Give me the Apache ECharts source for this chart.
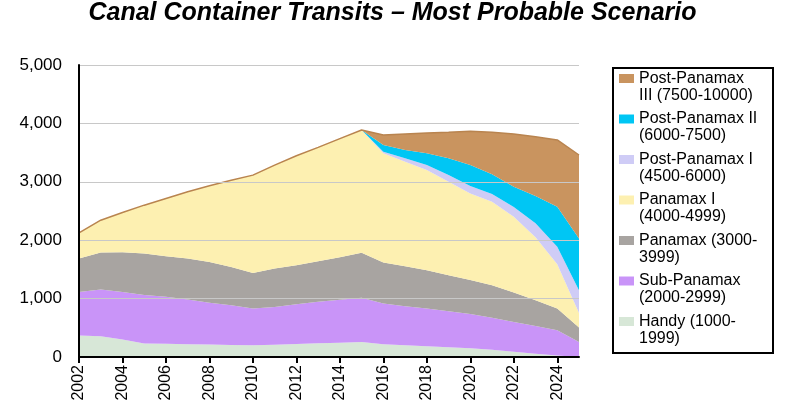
<!DOCTYPE html>
<html>
<head>
<meta charset="utf-8">
<script src="https://cdn.jsdelivr.net/npm/echarts@6/dist/echarts.min.js"></script>
<style>
html,body{margin:0;padding:0;background:#fff;}
#chart{width:785px;height:413px;}
</style>
</head>
<body>
<div id="chart"></div>
<script>
const years = ['2002','2003','2004','2005','2006','2007','2008','2009','2010','2011','2012','2013',
  '2014','2015','2016','2017','2018','2019','2020','2021','2022','2023','2024','2025'];
const yTicks = [0, 1000, 2000, 3000, 4000, 5000];

const handy        = [370,355,300,230,225,218,212,206,200,210,222,235,246,257,217,200,183,166,148,126,88,57,25,0];
const subPanamax   = [744,799,814,830,805,767,718,679,630,647,681,710,734,758,698,670,647,619,587,544,512,475,432,257];
const panamax      = [572,636,680,711,696,701,698,658,610,657,668,695,730,769,703,685,656,615,585,559,503,440,372,246];
const panamaxI     = [440,553,680,829,988,1143,1303,1485,1674,1772,1875,1950,2030,2104,1869,1790,1716,1601,1480,1429,1297,1078,761,252];
const postPanamaxI   = [0,0,0,0,0,0,0,0,0,0,0,0,0,0,29,57,85,115,130,132,170,240,297,388];
const postPanamaxII  = [0,0,0,0,0,0,0,0,0,0,0,0,0,0,114,143,200,286,357,340,346,466,686,887];
const postPanamaxIII = [0,0,0,0,0,0,0,0,0,0,0,0,0,0,172,274,348,446,578,717,903,1017,1143,1429];

const seriesNames = [
  'Handy (1000-\n1999)',
  'Sub-Panamax\n(2000-2999)',
  'Panamax (3000-\n3999)',
  'Panamax I\n(4000-4999)',
  'Post-Panamax I\n(4500-6000)',
  'Post-Panamax II\n(6000-7500)',
  'Post-Panamax\nIII (7500-10000)'
];
const seriesData = [handy, subPanamax, panamax, panamaxI, postPanamaxI, postPanamaxII, postPanamaxIII];
const colors = ['#D7E7D7', '#C994F8', '#A8A4A1', '#FDF0B1', '#CFCCF6', '#00C6F4', '#C9945F'];

const FONT = 'Arial, "Liberation Sans", Helvetica, sans-serif';

const chart = echarts.init(document.getElementById('chart'), null, {renderer: 'canvas'});

const series = seriesData.map((d, i) => ({
  name: seriesNames[i],
  type: 'line',
  stack: 'total',
  data: d,
  symbol: 'none',
  smooth: false,
  lineStyle: i === 6 ? {color: '#B9844F', width: 1.5} : {width: 0},
  itemStyle: {color: colors[i]},
  areaStyle: {color: colors[i], opacity: 1},
  emphasis: {disabled: true},
  z: 2
}));

chart.setOption({
  animation: false,
  backgroundColor: '#fff',
  title: {
    text: 'Canal Container Transits \u2013 Most Probable Scenario',
    left: 'center',
    top: 1,
    padding: 0,
    textStyle: {fontFamily: FONT, fontSize: 25, fontWeight: 'bold', fontStyle: 'italic', color: '#000'}
  },
  graphic: [{
    type: 'rect',
    shape: {x: 613, y: 68, width: 160, height: 285},
    style: {fill: '#fff', stroke: '#000', lineWidth: 2},
    z: 0
  }],
  legend: {
    orient: 'vertical',
    left: 619,
    top: 53,
    padding: 0,
    itemWidth: 15,
    itemHeight: 9,
    itemGap: -10.5,
    icon: 'rect',
    selectedMode: false,
    data: seriesNames.slice().reverse(),
    formatter: name => '\u00a0\n' + name,
    textStyle: {fontFamily: FONT, fontSize: 16, color: '#000', lineHeight: 17},
    z: 5
  },
  grid: {left: 79, right: 206, top: 65, bottom: 56, containLabel: false},
  xAxis: {
    type: 'category',
    data: years,
    boundaryGap: false,
    axisLine: {lineStyle: {color: '#000', width: 2}},
    axisTick: {show: true, interval: 1, length: 6, lineStyle: {color: '#000', width: 2}},
    axisLabel: {interval: 1, rotate: 90, fontFamily: FONT, fontSize: 16, color: '#000', margin: 8},
    splitLine: {show: false},
    z: 3
  },
  yAxis: {
    type: 'value',
    min: yTicks[0],
    max: yTicks[yTicks.length - 1],
    interval: 1000,
    axisLine: {show: true, lineStyle: {color: '#000', width: 2}},
    axisTick: {show: false},
    axisLabel: {fontFamily: FONT, fontSize: 17, color: '#000', margin: 17,
      formatter: v => v.toLocaleString('en-US')},
    splitLine: {show: true, lineStyle: {color: '#C8C8C8', width: 1}},
    z: 3
  },
  series: series
});
</script>
</body>
</html>
